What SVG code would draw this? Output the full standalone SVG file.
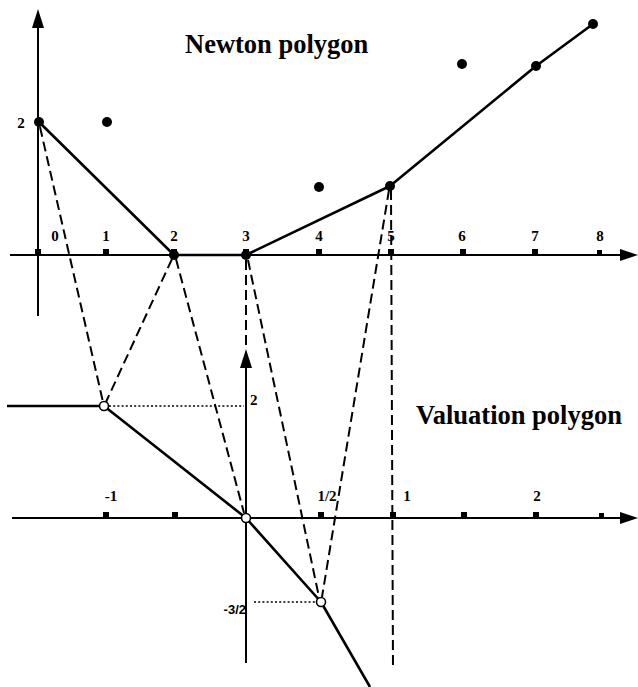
<svg xmlns="http://www.w3.org/2000/svg" width="638" height="687" viewBox="0 0 638 687">
<style>
.ax{stroke:#000;stroke-width:2;fill:none}
.poly{stroke:#000;stroke-width:2.6;fill:none;stroke-linejoin:round}
.dash{stroke:#000;stroke-width:2;fill:none;stroke-dasharray:10 5}
.dot{stroke:#000;stroke-width:1.5;fill:none;stroke-dasharray:2 2.2}
.pt{fill:#000}
.op{fill:#fff;stroke:#000;stroke-width:1.6}
.tk{fill:#000}
.lbl{font-family:"Liberation Serif","Times New Roman",serif;font-weight:bold;font-size:15px;fill:#000}
.ttl{font-family:"Liberation Serif","Times New Roman",serif;font-weight:bold;font-size:26.5px;fill:#000}
</style>
<rect width="638" height="687" fill="#fff"/>
<g id="newton-axes">
<line class="ax" x1="10" y1="255" x2="622" y2="255"/>
<polygon points="638,255 620,249 620,261" fill="#000"/>
<line class="ax" x1="38" y1="316" x2="38" y2="26"/>
<polygon points="38,9 32,28 44,28" fill="#000"/>
<g class="tk">
<rect x="35" y="249" width="6" height="6"/>
<rect x="103" y="249" width="6" height="6"/>
<rect x="171" y="249" width="6" height="6"/>
<rect x="243" y="249" width="6" height="6"/>
<rect x="316" y="249" width="6" height="6"/>
<rect x="388" y="249" width="6" height="6"/>
<rect x="460" y="249" width="6" height="6"/>
<rect x="532" y="249" width="6" height="6"/>
<rect x="597" y="250" width="5" height="5"/>
</g>
<g class="lbl" text-anchor="middle">
<text x="55" y="241">0</text>
<text x="106" y="241">1</text>
<text x="174" y="241">2</text>
<text x="246" y="241">3</text>
<text x="319" y="241">4</text>
<text x="391" y="241">5</text>
<text x="462" y="241">6</text>
<text x="535" y="241">7</text>
<text x="600" y="241">8</text>
<text x="21" y="128">2</text>
</g>
</g>
<g id="valuation-axes">
<line class="ax" x1="12" y1="518" x2="622" y2="518"/>
<polygon points="638,518 620,512 620,524" fill="#000"/>
<line class="ax" x1="246" y1="663" x2="246" y2="366"/>
<polygon points="246,349 240,368 252,368" fill="#000"/>
<g class="tk">
<rect x="103" y="512" width="6" height="6"/>
<rect x="172" y="512" width="6" height="6"/>
<rect x="318" y="512" width="6" height="6"/>
<rect x="390" y="512" width="6" height="6"/>
<rect x="461" y="512" width="6" height="6"/>
<rect x="533" y="512" width="6" height="6"/>
<rect x="599" y="513" width="5" height="5"/>
</g>
<g class="lbl">
<text x="111" y="501" text-anchor="middle">-1</text>
<text x="327" y="501" text-anchor="middle">1/2</text>
<text x="407" y="501" text-anchor="middle">1</text>
<text x="537" y="501" text-anchor="middle">2</text>
<text x="250" y="405">2</text>
<text x="246" y="614" text-anchor="end" font-family="Liberation Sans, Arial, sans-serif" font-size="13">-3/2</text>
</g>
</g>
<g id="titles">
<text class="ttl" x="185" y="53">Newton polygon</text>
<text class="ttl" x="416" y="424">Valuation polygon</text>
</g>
<g id="connectors">
<polyline class="poly" points="39,122 174,255 246,255 390,186 536,66 593,24"/>
<polyline class="poly" points="7,406 104,406 246,518 321,602 370,687"/>
<line class="dash" x1="40" y1="127" x2="103" y2="402"/>
<line class="dash" x1="172" y1="259" x2="106" y2="402"/>
<line class="dash" x1="176" y1="259" x2="244" y2="513"/>
<line class="dash" x1="246" y1="260" x2="246" y2="350"/>
<line class="dash" x1="248" y1="260" x2="319" y2="597"/>
<line class="dash" x1="389" y1="190" x2="322" y2="597"/>
<line class="dash" x1="391" y1="190" x2="393" y2="668"/>
<line class="dot" x1="109" y1="406" x2="244" y2="406"/>
<line class="dot" x1="254" y1="602" x2="316" y2="602"/>
</g>
<g id="n-0-2"><circle class="pt" cx="39" cy="122" r="5"/></g>
<g id="n-1-2"><circle class="pt" cx="107" cy="122" r="5"/></g>
<g id="n-2-0"><circle class="pt" cx="174" cy="255" r="5"/></g>
<g id="n-3-0"><circle class="pt" cx="246" cy="255" r="5"/></g>
<g id="n-4-1"><circle class="pt" cx="319" cy="187" r="5"/></g>
<g id="n-5-1"><circle class="pt" cx="390" cy="186" r="5"/></g>
<g id="n-6-3"><circle class="pt" cx="462" cy="64" r="5"/></g>
<g id="n-7-3"><circle class="pt" cx="536" cy="66" r="5"/></g>
<g id="n-8-4"><circle class="pt" cx="593" cy="24" r="5"/></g>
<g id="v-m1-2"><circle class="op" cx="104" cy="406" r="4.5"/></g>
<g id="v-0-0"><circle class="op" cx="246" cy="518" r="4.5"/></g>
<g id="v-half-m3half"><circle class="op" cx="321" cy="602" r="4.5"/></g>
</svg>
